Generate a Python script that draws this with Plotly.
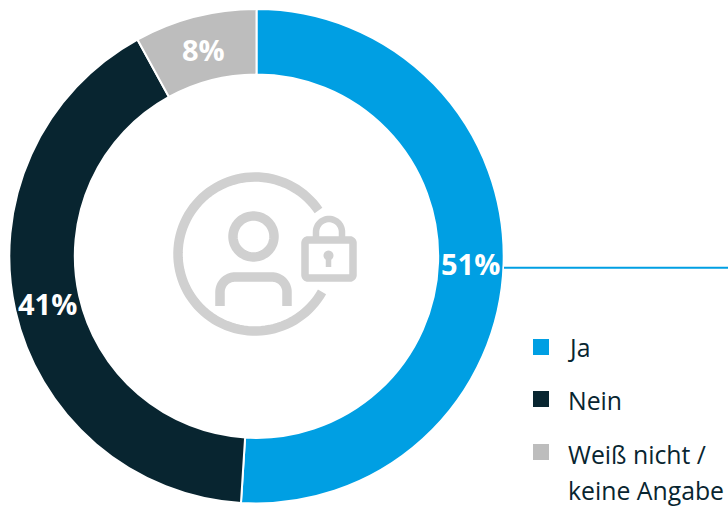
import math
import plotly.graph_objects as go

W, H = 728, 506
categories = ["Ja", "Nein", "Weiß nicht /<br>keine Angabe"]
values = [51, 41, 8]
colors = ["#009FE3", "#082530", "#BDBDBD"]
ICON = "#D0D0D0"
FONT = "Open Sans"


def px(x):
    return x / W


def py(y):
    return 1 - y / H


def P(x, y):
    return f"{px(x):.5f},{py(y):.5f}"


def arc(cx, cy, r, a0, a1, n=90):
    pts = []
    for i in range(n + 1):
        a = math.radians(a0 + (a1 - a0) * i / n)
        pts.append((cx + r * math.cos(a), cy + r * math.sin(a)))
    return pts


def path(pts, close=False):
    s = "M" + " L".join(P(x, y) for x, y in pts)
    return s + (" Z" if close else "")


fig = go.Figure(go.Pie(
    labels=[c.replace("<br>", " ") for c in categories], values=values,
    hole=0.735, sort=False, direction="clockwise", rotation=0,
    marker=dict(colors=colors, line=dict(color="white", width=2)),
    textinfo="none",
    domain=dict(x=[px(9.3), px(503.7)], y=[py(503.4), py(9)]),
    showlegend=False, hoverinfo="label+percent",
))

shapes = []


def stroke(pts, width, color=ICON, close=False):
    shapes.append(dict(type="path", xref="paper", yref="paper", path=path(pts, close),
                       line=dict(color=color, width=width), layer="above"))


# leader line
shapes.append(dict(type="line", xref="paper", yref="paper", x0=px(504), x1=1, y0=py(267.7), y1=py(267.7),
                   line=dict(color=colors[0], width=2)))

# icon: outer ring with a gap for the lock
cx, cy, r = 255, 254, 77
a_top = math.degrees(math.atan2(211.7 - cy, 316.7 - cx))
a_bot = math.degrees(math.atan2(291.7 - cy, 321.7 - cx))
stroke(arc(cx, cy, r, a_bot, a_top + 360), 9.5)
# head
stroke(arc(253.5, 236.5, 20.5, 0, 360), 9.5, close=True)
# shoulders
body = [(220, 306)] + arc(235, 292, 15, 180, 270, 20) + arc(272, 292, 15, 270, 360, 20) + [(287, 306)]
stroke(body, 9.5)
# lock body
lock = arc(308, 243, 3, 180, 270, 8) + arc(350, 243, 3, 270, 360, 8) + arc(350, 275, 3, 0, 90, 8) + arc(308, 275, 3, 90, 180, 8)
stroke(lock, 7.5, close=True)
# shackle
stroke([(316, 240)] + arc(329, 232, 13, 180, 360, 30) + [(342, 240)], 6.5)
# keyhole
stroke(arc(328.5, 255.5, 2.5, 0, 360, 24), 5, close=True)
stroke([(328.5, 256), (328.5, 267)], 5.5)

annotations = []

# percentage labels, centred in the ring at each slice's mid-angle
total = sum(values)
cum = 0
RING_CX, RING_CY, RING_R = 256.5, 256.5, 214
for v in values:
    a = 2 * math.pi * (cum + v / 2) / total
    cum += v
    annotations.append(dict(xref="paper", yref="paper", showarrow=False,
                            x=px(RING_CX + RING_R * math.sin(a)), y=py(RING_CY - RING_R * math.cos(a)),
                            xanchor="center", yanchor="middle", text=f"{v}%",
                            font=dict(family=FONT, size=29, color="white", weight="bold")))

legend_y = [347, 399, 452]
legend_text_y = [347, 400, 454]
LINE_GAP = 36
for color, name, y, ty in zip(colors, categories, legend_y, legend_text_y):
    shapes.append(dict(type="rect", xref="paper", yref="paper", x0=px(533), x1=px(549),
                       y0=py(y - 8), y1=py(y + 8), fillcolor=color, line=dict(width=0)))
    for i, line in enumerate(name.split("<br>")):
        annotations.append(dict(xref="paper", yref="paper", x=px(567), y=py(ty + i * LINE_GAP),
                                xanchor="left", yanchor="middle", text=line, showarrow=False, align="left",
                                xshift=-1, font=dict(family=FONT, size=24.8, color=colors[1])))

fig.update_layout(width=W, height=H, margin=dict(l=0, r=0, t=0, b=0), paper_bgcolor="white",
                  shapes=shapes, annotations=annotations)
fig.write_html("out.html", config=dict(displayModeBar=False),
               post_script="document.body.style.margin='0';document.documentElement.style.overflow='hidden';")
